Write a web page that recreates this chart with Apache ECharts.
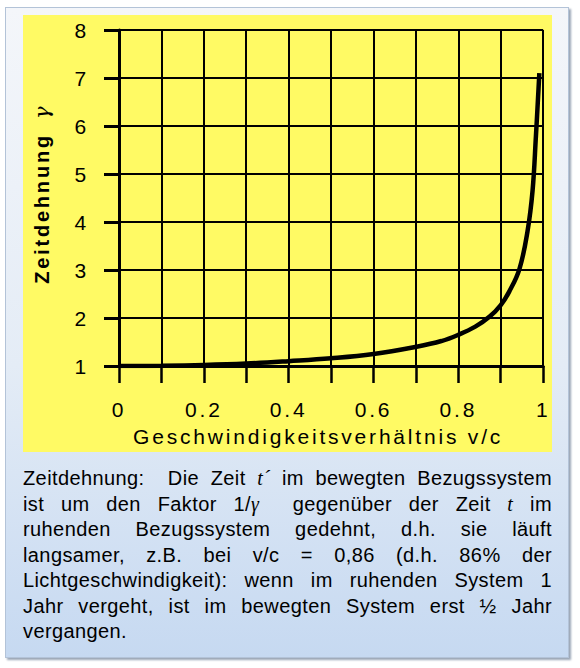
<!DOCTYPE html>
<html lang="de">
  <head>
    <meta charset="UTF-8" />
    <meta name="viewport" content="width=device-width, initial-scale=1.0" />
    <title>Zeitdehnung</title>
    <script src="https://cdn.jsdelivr.net/npm/echarts@6/dist/echarts.min.js"></script>
    <style>
      html, body { margin: 0; padding: 0; background: #fff; }
      body { width: 580px; height: 668px; position: relative; overflow: hidden; }
      #frame {
        position: absolute; left: 5px; top: 7px; width: 562px; height: 649px;
        border: 1px solid #b3c3d8;
        background: linear-gradient(#f4f6fa 0%, #e4ecf6 55%, #c6d9f1 100%);
        box-shadow: 2px 2px 2px #9aa6b6;
      }
      #chart {
        position: absolute; left: 23px; top: 15px; width: 529px; height: 437px;
        letter-spacing: 2.8px;
      }
      #caption {
        position: absolute; left: 23px; top: 466px; width: 529px;
        font-family: "Liberation Sans", Arial, sans-serif;
        font-size: 20px; line-height: 25.5px; color: #000;
        letter-spacing: 0.4px;
      }
      #caption div { text-align: justify; text-align-last: justify; }
      #caption div.last { text-align-last: left; }
      #caption i { font-family: "Liberation Serif", serif; }
    </style>
  </head>
  <body>
    <div id="frame"></div>
    <div id="chart"></div>
    <div id="caption">
      <div>Zeitdehnung:&nbsp; Die Zeit <i>t´</i> im bewegten Bezugssystem</div>
      <div>ist um den Faktor 1/<i>γ</i>&nbsp; gegenüber der Zeit <i>t</i> im</div>
      <div>ruhenden Bezugssystem gedehnt, d.h. sie läuft</div>
      <div>langsamer, z.B. bei v/c = 0,86 (d.h. 86% der</div>
      <div>Lichtgeschwindigkeit): wenn im ruhenden System 1</div>
      <div>Jahr vergeht, ist im bewegten System erst ½ Jahr</div>
      <div class="last">vergangen.</div>
    </div>
    <script>
      // Werte
      var speedRatio = [0, 0.1, 0.2, 0.3, 0.4, 0.5, 0.6, 0.7, 0.76, 0.8, 0.84, 0.874, 0.9, 0.92, 0.944, 0.963, 0.975, 0.983, 0.988, 0.991];
      var gamma = [1, 1.005, 1.02, 1.05, 1.1, 1.16, 1.25, 1.4, 1.52, 1.65, 1.82, 2.03, 2.27, 2.55, 3.02, 3.8, 4.65, 5.8, 6.6, 7.1];
      var xTickLabels = ["0", "0.2", "0.4", "0.6", "0.8", "1"];
      var yTickLabels = ["1", "2", "3", "4", "5", "6", "7", "8"];

      var font = "Liberation Sans";
      var points = speedRatio.map(function (v, i) { return [v, gamma[i]]; });

      var chart = echarts.init(document.getElementById("chart"), null, { renderer: "svg" });
      chart.setOption({
        backgroundColor: "#fffa64",
        animation: false,
        grid: { left: 93, right: 8, top: 15, bottom: 86 },
        xAxis: {
          type: "value",
          min: 0,
          max: 1,
          interval: 0.2,
          name: "Geschwindigkeitsverhältnis v/c",
          nameLocation: "middle",
          nameGap: 60,
          nameTextStyle: { fontFamily: font, fontSize: 21, color: "#000", padding: [0, 26, 0, 0] },
          axisLine: { lineStyle: { color: "#000", width: 3 } },
          axisTick: { length: 17, lineStyle: { color: "#000", width: 2.5 } },
          minorTick: { show: true, splitNumber: 2, length: 17, lineStyle: { color: "#000", width: 2.5 } },
          splitLine: { lineStyle: { color: "#000", width: 2 } },
          minorSplitLine: { show: true, lineStyle: { color: "#000", width: 2 } },
          axisLabel: {
            margin: 33,
            fontFamily: font,
            fontSize: 21,
            color: "#000",
            formatter: function (v) { return xTickLabels[Math.round(v * 5)]; }
          }
        },
        yAxis: {
          type: "value",
          min: 1,
          max: 8,
          interval: 1,
          name: "Zeitdehnung {g|γ}",
          nameLocation: "middle",
          nameGap: 67,
          nameTextStyle: {
            fontFamily: font,
            fontSize: 20,
            fontWeight: "bold",
            color: "#000",
            padding: [0, 0, 0, 24],
            rich: {
              // Ausgleich für den Buchstabenabstand vor dem γ
              g: { fontFamily: "DejaVu Serif", fontStyle: "italic", fontWeight: "normal", fontSize: 21, color: "#000", padding: [0, 0, 0, 24] }
            }
          },
          axisLine: { show: true, lineStyle: { color: "#000", width: 3 } },
          axisTick: { show: true, length: 15, lineStyle: { color: "#000", width: 3 } },
          splitLine: { lineStyle: { color: "#000", width: 2 } },
          axisLabel: {
            margin: 30,
            fontFamily: font,
            fontSize: 21,
            color: "#000",
            formatter: function (v) { return yTickLabels[Math.round(v) - 1]; }
          }
        },
        series: [
          {
            type: "line",
            data: points,
            smooth: 0.4,
            showSymbol: false,
            lineStyle: { color: "#000", width: 4.5 },
            z: 5
          }
        ]
      });
    </script>
  </body>
</html>
